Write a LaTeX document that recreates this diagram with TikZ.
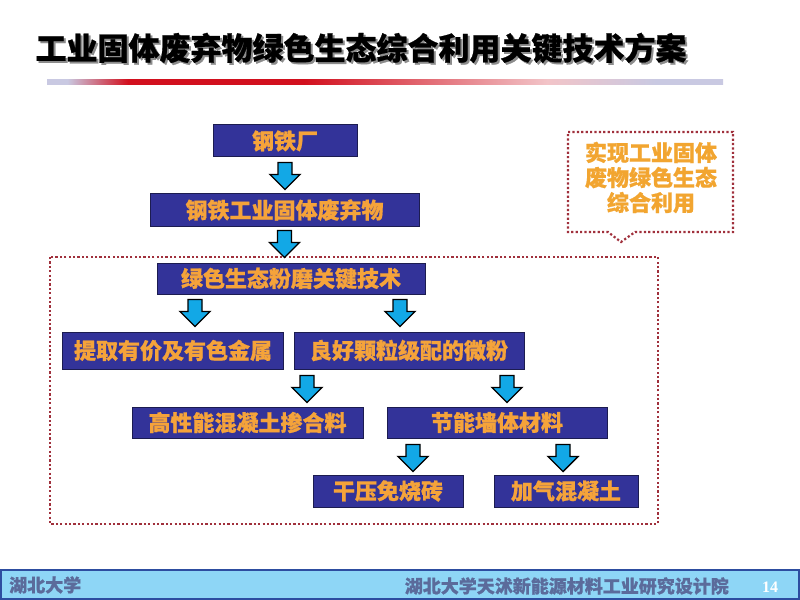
\documentclass[tikz,border=0pt]{standalone}
\usepackage{fontspec}
\newfontfamily\cjk{Noto Sans CJK SC}[BoldFeatures={FakeBold=0.8}]
\newfontfamily\tnr{Liberation Serif}
\usetikzlibrary{calc}
\definecolor{boxblue}{HTML}{333399}
\definecolor{boxedge}{HTML}{1C1C50}
\definecolor{boxtxt}{HTML}{F5A33A}
\definecolor{calltxt}{HTML}{F2A530}
\definecolor{dotred}{HTML}{A0303C}
\definecolor{arrblue}{HTML}{12A8E6}
\definecolor{barlav}{HTML}{C9C9E2}
\definecolor{barred}{HTML}{D2101E}
\definecolor{barpink}{HTML}{F2C4C8}
\definecolor{footfill}{HTML}{8ED6F6}
\definecolor{footedge}{HTML}{2D4DA0}
\definecolor{foottxt}{HTML}{5B6B9B}
\definecolor{shadowgray}{HTML}{8C8C8C}
\pgfdeclarehorizontalshading{titlebar}{100bp}{color(0bp)=(barlav); color(25bp)=(barlav); color(26.5bp)=(barlav); color(31bp)=(barred); color(44bp)=(barred); color(62bp)=(barpink); color(70bp)=(barlav); color(100bp)=(barlav)}
\newcommand\shadowed[1]{\makebox[0pt][l]{\hspace{2bp}\raisebox{-2bp}{\textcolor{shadowgray}{#1}}}#1}
\tikzset{
  boxsty/.style={draw=boxedge, line width=1bp, fill=boxblue, text=boxtxt,
    font={\cjk\bfseries\fontsize{22bp}{24bp}\selectfont}, inner sep=0pt},
  titlesty/.style={font={\cjk\bfseries\fontsize{31bp}{34bp}\selectfont}, inner sep=0pt},
  dotsty/.style={draw=dotred, line width=2.2bp, dash pattern=on 2.2bp off 2.2bp},
  downarr/.pic={\draw[line width=1.4bp, fill=arrblue, line join=miter]
    (-7,0) -- (7,0) -- (7,12) -- (15,12) -- (0,27) -- (-15,12) -- (-7,12) -- cycle;},
  foottxtsty/.style={text=foottxt, font={\cjk\bfseries\fontsize{18bp}{20bp}\selectfont}, inner sep=0pt}
}
\begin{document}
\begin{tikzpicture}[x=1bp,y=-1bp]
\useasboundingbox (0,0) rectangle (800,600);
\fill[white] (0,0) rectangle (800,600);
% title
\node[titlesty, text=black] (title) at (361,49) {\shadowed{工业固体废弃物绿色生态综合利用关键技术方案}};
\shade[shading=titlebar] (47,80) rectangle (723,85);
% boxes
\node[boxsty, minimum width=144bp, minimum height=32bp] (b1) at (285,141) {钢铁厂};
\node[boxsty, minimum width=269bp, minimum height=32bp] (b2) at (284.5,210) {钢铁工业固体废弃物};
\draw[dotsty] (50,257) rectangle (658,524);
\node[boxsty, minimum width=268bp, minimum height=31bp] (b3) at (291,278.5) {绿色生态粉磨关键技术};
\node[boxsty, minimum width=220bp, minimum height=37bp] (b4) at (173,350.5) {提取有价及有色金属};
\node[boxsty, minimum width=230bp, minimum height=37bp] (b5) at (409,350.5) {良好颗粒级配的微粉};
\node[boxsty, minimum width=231bp, minimum height=31bp] (b6) at (247.5,422.5) {高性能混凝土掺合料};
\node[boxsty, minimum width=220bp, minimum height=31bp] (b7) at (497,422.5) {节能墙体材料};
\node[boxsty, minimum width=150bp, minimum height=32bp] (b8) at (388,491) {干压免烧砖};
\node[boxsty, minimum width=144bp, minimum height=32bp] (b9) at (566,491) {加气混凝土};
% block arrows
\pic at ($(b1.south)+(0,5)$) {downarr};
\pic at ($(b2.south)+(0,4)$) {downarr};
\pic at ($(195,0 |- b3.south)+(0,5)$) {downarr};
\pic at ($(400,0 |- b3.south)+(0,5)$) {downarr};
\pic at ($(307,0 |- b5.south)+(0,6)$) {downarr};
\pic at ($(507,0 |- b5.south)+(0,6)$) {downarr};
\pic at ($(413,0 |- b7.south)+(0,6)$) {downarr};
\pic at ($(563,0 |- b7.south)+(0,6)$) {downarr};
% callout
\draw[dotsty] (568,132) -- (733,132) -- (733,232) -- (635,232) -- (621,242) -- (608,232) -- (568,232) -- cycle;
\node[text=calltxt, font={\cjk\fontsize{22bp}{25bp}\selectfont}, align=center, inner sep=0pt] (call) at (651,177.5) {\cjk\bfseries 实现工业固体\\\cjk\bfseries 废物绿色生态\\\cjk\bfseries 综合利用};
% footer
\node[text=white, font={\cjk\fontsize{15bp}{16bp}\selectfont}, inner sep=0pt] (wm) at (737,563) {中国工业固废网};
\draw[fill=footfill, draw=footedge, line width=2bp] (1,570) rectangle (799,599);
\node[foottxtsty, anchor=west] (fl) at (9,585) {湖北大学};
\node[foottxtsty, anchor=east] (fr) at (729,586) {湖北大学天沭新能源材料工业研究设计院};
\node[text=white, font={\tnr\bfseries\fontsize{16bp}{16bp}\selectfont}, inner sep=0pt] (pg) at (770,587) {14};
\end{tikzpicture}
\end{document}
